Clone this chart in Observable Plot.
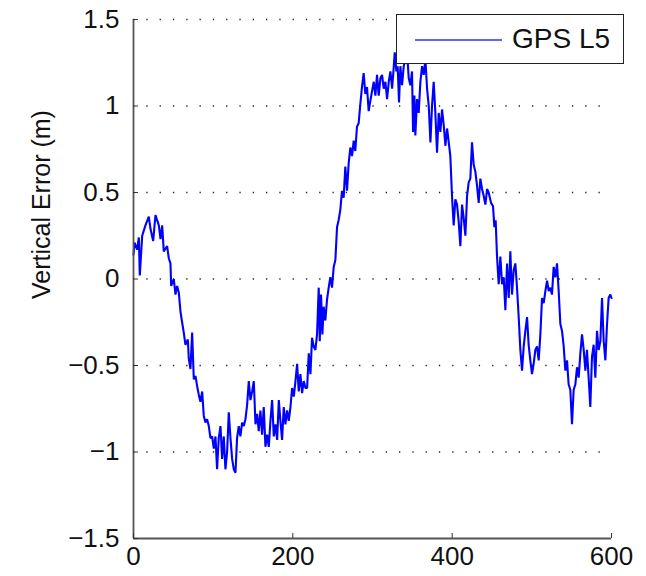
<!DOCTYPE html>
<html>
<head>
<meta charset="utf-8">
<script src="https://cdn.jsdelivr.net/npm/d3@7"></script>
<script src="https://cdn.jsdelivr.net/npm/@observablehq/plot@0.6"></script>
<style>
  html, body { margin: 0; padding: 0; background: #fff; }
  #wrap { position: relative; width: 646px; height: 576px; font-family: "Liberation Sans", Arial, sans-serif; }
  #legend { position: absolute; left: 396px; top: 14px; width: 226px; height: 48px; border: 1.6px solid #222; background: #fff; box-sizing: content-box; }
  #legend .sw { position: absolute; left: 18px; top: 24px; width: 87px; height: 0; border-top: 2px solid #6262ff; }
  #legend .lab { position: absolute; left: 115px; top: 6px; font-size: 28px; line-height: 36px; color: #111; }
</style>
</head>
<body>
<div id="wrap"></div>
<script>
const seriesName = "GPS L5";
const yLabel = "Vertical Error (m)";
const xTicks = [0, 200, 400, 600];
const yTicks = [-1.5, -1, -0.5, 0, 0.5, 1, 1.5];

const timeS = [
  0, 1.3, 4.6, 6.7, 7.9, 10.9, 15, 19.2, 21.3, 24.7, 27.6, 31.8, 33.9, 36, 38, 42.2, 44.3, 46.4, 47.3, 50.6,
  52.7, 54.8, 56.9, 59, 61, 63.1, 65.2, 68.2, 69.4, 71.5, 73.6, 75.7, 77.8, 79.9, 82, 84, 86.2, 88.2, 90.3, 92.4,
  94.5, 96.6, 98.7, 100.8, 102.9, 104.9, 107, 109.2, 111.2, 113.3, 115.4, 117.5, 119.6, 121.7, 123.8, 125.9, 128, 130, 132.1, 134.2,
  136.3, 138.4, 140.5, 142.6, 144.7,
  146.8, 148.9, 151.0, 153.1, 155.2, 157.2, 159.3, 161.4, 163.5, 165.6, 167.7, 169.8, 171.9, 174.0, 176.1, 178.2, 180.3, 182.4, 184.4, 186.5,
  188.6, 190.7, 192.8, 194.9, 197.0, 199.1, 201.2, 203.3, 205.4, 207.4, 209.5, 211.6, 213.7, 215.8, 217.9, 220.0, 222.1, 224.1, 226.2, 228.3,
  230.4, 232.5, 233.8, 235.4, 237.1, 238.7, 240.8, 242.9, 245.0, 247.1, 249.2, 251.3, 253.4, 255.5, 257.5, 259.6, 261.7, 263.8, 265.9, 268.0,
  270.1, 272.2, 274.3, 276.4, 278.4, 280.5, 282.6, 284.7, 286.8, 288.9, 291.0, 293.1, 295.2, 297.3,
  301.6, 303.6, 305.7, 307.8, 309.9, 312.0, 314.1, 316.2, 318.3, 320.4, 322.5, 324.6, 326.6, 327.9, 330.0, 331.6, 333.3, 335.0, 337.1, 339.2,
  341.3, 343.4, 345.5, 347.6, 349.6, 350.9, 352.6, 353.8, 355.9, 358.0, 360.1, 362.2, 364.3, 366.4, 368.5, 370.6, 372.7, 374.7, 376.8, 378.9,
  381.0, 383.1, 385.2, 387.3, 389.4, 391.5, 393.6, 395.7, 397.7, 399.8, 401.9, 404.0, 406.1, 408.2, 410.3, 412.4, 414.5, 416.6, 418.7, 420.8,
  422.8, 424.9, 427.0, 429.1, 431.2, 433.3, 435.4, 437.5, 439.6, 441.7, 443.8, 445.8,
  448.8, 451.3, 453.0, 454.6, 456.3, 458.4, 460.5, 462.6, 464.7, 466.8, 468.9, 471.0, 473.0, 475.1, 477.2, 479.3, 481.4, 483.5, 485.6, 487.7,
  489.8, 491.9, 494.0, 496.0, 498.1, 500.2, 502.3, 504.4, 506.5, 508.6, 510.7, 512.8, 514.9, 517.0, 519.1, 521.2, 523.2, 525.3, 527.4, 529.5,
  531.6, 533.7, 535.8, 537.9, 540.0, 542.1, 544.2, 546.2, 548.3, 550.4, 552.5, 554.6, 556.7, 558.8, 560.9, 563.0, 565.1, 567.2, 569.2, 571.3,
  573.4, 575.5, 577.6, 579.7, 581.8, 583.9, 586.0, 588.1, 590.2, 592.3, 594.4, 596.4, 598.5, 600
];
const vertErr = [
  0.14, 0.21, 0.17, 0.24, 0.02, 0.25, 0.31, 0.36, 0.29, 0.22, 0.37, 0.31, 0.23, 0.31, 0.16, 0.19, 0.12, 0.09, -0.04, 0.00,
  -0.09, -0.04, -0.08, -0.19, -0.25, -0.31, -0.38, -0.35, -0.46, -0.52, -0.31, -0.58, -0.56, -0.62, -0.67, -0.71, -0.65, -0.79, -0.83, -0.81,
  -0.85, -0.92, -0.91, -0.98, -0.91, -1.10, -0.92, -0.85, -1.04, -0.91, -1.10, -1.00, -0.77, -0.92, -1.04, -1.10, -1.12, -0.92, -0.85, -0.91,
  -0.83, -0.85, -0.81, -0.73, -0.59,
  -0.70, -0.65, -0.59, -0.84, -0.78, -0.88, -0.76, -0.90, -0.74, -0.97, -0.90, -0.97, -0.82, -0.70, -0.91, -0.84, -0.93, -0.70, -0.82, -0.93,
  -0.74, -0.84, -0.76, -0.82, -0.74, -0.63, -0.68, -0.59, -0.49, -0.65, -0.55, -0.66, -0.59, -0.63, -0.63, -0.43, -0.55, -0.34, -0.39, -0.41,
  -0.32, -0.05, -0.36, -0.09, -0.32, -0.16, -0.24, -0.12, -0.05, 0.01, -0.05, 0.07, 0.11, 0.30, 0.34, 0.40, 0.51, 0.47, 0.65, 0.51,
  0.67, 0.76, 0.71, 0.80, 0.74, 0.88, 0.90, 1.01, 1.11, 1.19, 1.07, 1.11, 0.97, 1.03,
  1.14, 1.06, 1.18, 1.06, 1.16, 1.18, 1.10, 1.14, 1.04, 1.14, 1.20, 1.10, 1.22, 1.31, 1.20, 1.23, 1.02, 1.23, 1.12, 1.23,
  1.27, 1.31, 1.16, 1.12, 1.20, 0.85, 1.06, 0.83, 1.04, 0.96, 1.14, 1.23, 1.18, 1.27, 1.10, 1.00, 0.79, 1.00, 1.14, 0.96,
  0.73, 0.96, 0.85, 0.98, 0.89, 0.77, 0.87, 0.79, 0.71, 0.48, 0.31, 0.46, 0.43, 0.33, 0.19, 0.43, 0.35, 0.25, 0.48, 0.56,
  0.58, 0.79, 0.66, 0.62, 0.54, 0.44, 0.58, 0.52, 0.48, 0.43, 0.52, 0.50,
  0.44, 0.42, 0.30, 0.34, 0.13, -0.03, 0.13, -0.03, 0.01, -0.18, 0.09, -0.11, 0.16, -0.09, 0.05, 0.09, -0.05, -0.22, -0.41, -0.53,
  -0.39, -0.30, -0.22, -0.38, -0.47, -0.55, -0.49, -0.41, -0.39, -0.47, -0.32, -0.11, -0.14, -0.07, -0.01, -0.07, -0.05, -0.09, 0.07, 0.01,
  0.09, -0.07, -0.26, -0.30, -0.39, -0.53, -0.47, -0.61, -0.64, -0.84, -0.64, -0.61, -0.51, -0.57, -0.43, -0.32, -0.41, -0.53, -0.41, -0.57,
  -0.74, -0.45, -0.38, -0.57, -0.30, -0.41, -0.36, -0.11, -0.36, -0.47, -0.26, -0.11, -0.09, -0.11
];

const data = timeS.map((t, i) => ({t, v: vertErr[i]}));
const fmt = d3.format("");

const chart = Plot.plot({
  width: 646,
  height: 576,
  marginLeft: 133,
  marginRight: 35,
  marginTop: 19,
  marginBottom: 38,
  style: {fontFamily: "'Liberation Sans', Arial, sans-serif", fontSize: "26px", color: "#111", background: "#fff", overflow: "visible"},
  x: {domain: [0, 600]},
  y: {domain: [-1.5, 1.5]},
  marks: [
    Plot.ruleY(yTicks.slice(1), {stroke: "#222", strokeWidth: 1.3, strokeDasharray: "1.3,12"}),
    Plot.line(data, {x: "t", y: "v", stroke: "#0000ff", strokeWidth: 2.1, strokeLinejoin: "miter"}),
    Plot.ruleX([0], {stroke: "#555", strokeWidth: 1.8}),
    Plot.ruleY([-1.5], {stroke: "#555", strokeWidth: 1.8}),
    Plot.tickX(xTicks, {x: d => d, stroke: "#333", insetTop: 514}),
    Plot.tickY(yTicks, {y: d => d, stroke: "#333", insetRight: 473}),
    Plot.axisX({ticks: xTicks, tickSize: 0, tickPadding: 8, tickFormat: fmt, label: null, fontSize: 26}),
    Plot.axisY({ticks: yTicks, tickSize: 0, tickPadding: 14, tickFormat: fmt, label: null, fontSize: 26}),
    Plot.text([yLabel], {frameAnchor: "left", rotate: -90, dx: -92, dy: 20, fontSize: 25, fill: "#111"})
  ]
});

const wrap = document.getElementById("wrap");
wrap.appendChild(chart);
const leg = document.createElement("div");
leg.id = "legend";
leg.innerHTML = `<div class="sw"></div><div class="lab">${seriesName}</div>`;
wrap.appendChild(leg);
</script>
</body>
</html>
